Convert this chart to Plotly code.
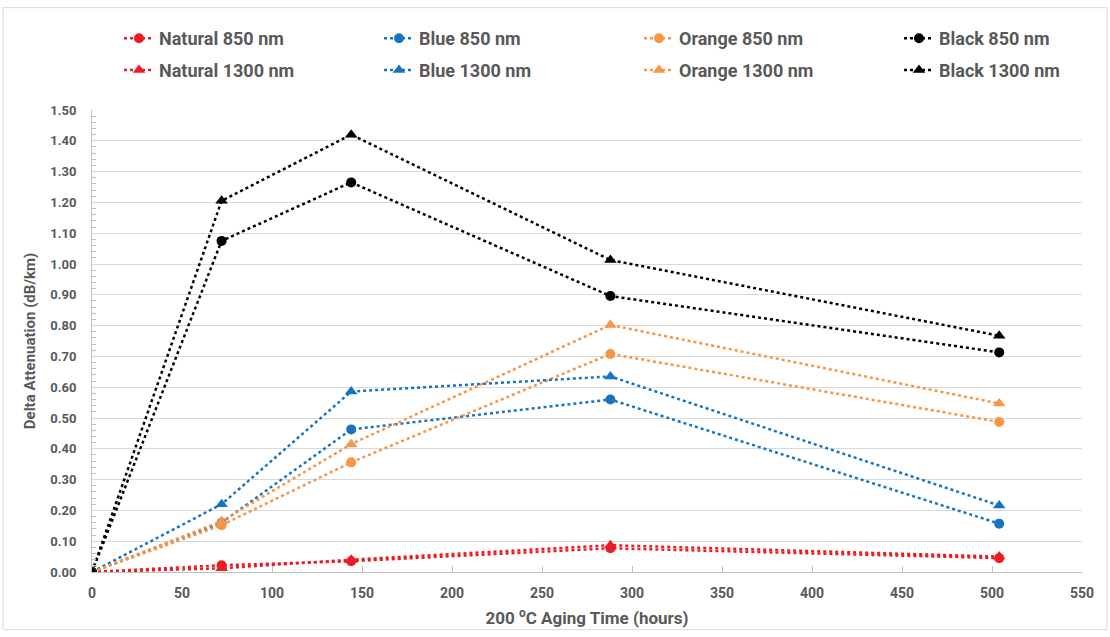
import plotly.graph_objects as go

hours = [0, 72, 144, 288, 504]
natural_850 = [0.0, 0.022, 0.035, 0.077, 0.045]
natural_1300 = [0.0, 0.012, 0.040, 0.087, 0.050]
blue_850 = [0.0, 0.160, 0.463, 0.560, 0.157]
blue_1300 = [0.0, 0.220, 0.586, 0.635, 0.216]
orange_850 = [0.0, 0.152, 0.356, 0.708, 0.487]
orange_1300 = [0.0, 0.165, 0.415, 0.802, 0.547]
black_850 = [0.0, 1.075, 1.265, 0.896, 0.713]
black_1300 = [0.0, 1.205, 1.420, 1.013, 0.767]

colors = {"Natural": "#ED1C24", "Blue": "#1874C0", "Orange": "#F79646", "Black": "#000000"}
series_850 = [("Natural", natural_850), ("Blue", blue_850), ("Orange", orange_850), ("Black", black_850)]
series_1300 = [("Natural", natural_1300), ("Blue", blue_1300), ("Orange", orange_1300), ("Black", black_1300)]

FONT = "Roboto, Arial"
TXT = "#595959"

L, R, T, B = 92, 1082, 110, 575
W, H = 1110, 637
pw, ph = R - L, B - T

def px(x):
    return (x - L) / pw

def py(y):
    return (B - y) / ph

col_x = [119, 379, 639, 899]
row_y = [38, 70]

fig = go.Figure()
legends = {}
k = 0
for row, (series, wl, sym, msize) in enumerate([(series_850, "850", "circle", 10),
                                                 (series_1300, "1300", "triangle-up", 11)]):
    for col, (name, vals) in enumerate(series):
        k += 1
        lname = "legend" if k == 1 else f"legend{k}"
        fig.add_trace(go.Scatter(x=hours, y=vals, mode="lines+markers", name=f"{name} {wl} nm",
                                 line=dict(color=colors[name], width=2.5, dash="dot"),
                                 marker=dict(symbol=sym, size=msize, color=colors[name]),
                                 legend=lname, showlegend=True))
        legends[lname] = dict(x=px(col_x[col]), y=py(row_y[row]), xanchor="left", yanchor="middle",
                              orientation="h", bgcolor="rgba(0,0,0,0)",
                              font=dict(family=FONT, size=18, color=TXT, weight="bold"))

fig.update_layout(
    width=W, height=H,
    showlegend=True,
    margin=dict(l=L, r=W - R, t=T, b=H - B),
    paper_bgcolor="white", plot_bgcolor="white",
    font=dict(family=FONT, color=TXT),
    xaxis=dict(range=[0, 550], dtick=50, tick0=0, showgrid=False,
               showline=True, linecolor="#BFBFBF", linewidth=1,
               ticks="inside", ticklen=6, tickcolor="#BFBFBF",
               ticklabelstandoff=8,
               tickfont=dict(family=FONT, size=14, color=TXT, weight="bold"),
               title=dict(text="200 <sup>o</sup>C Aging Time (hours)",
                          font=dict(family=FONT, size=17, color=TXT, weight="bold"), standoff=12),
               zeroline=False),
    yaxis=dict(range=[0, 1.5], dtick=0.1, tick0=0, tickformat=".2f",
               showgrid=True, gridcolor="#D9D9D9", gridwidth=1,
               showline=True, linecolor="#BFBFBF", linewidth=1,
               ticks="", ticklabelstandoff=12,
               tickfont=dict(family=FONT, size=13, color=TXT, weight="bold"),
               minor=dict(dtick=0.02, ticks="inside", ticklen=4, tickcolor="#BFBFBF", showgrid=False),
               title=dict(text="Delta Attenuation (dB/km)",
                          font=dict(family=FONT, size=15, color=TXT, weight="bold"), standoff=10),
               zeroline=False),
    shapes=[dict(type="rect", xref="paper", yref="paper",
                 x0=px(3), x1=px(1107), y0=py(633), y1=py(7),
                 line=dict(color="#D9D9D9", width=1), fillcolor="rgba(0,0,0,0)", layer="below")],
    **legends,
)

fig.write_html("out.html")
